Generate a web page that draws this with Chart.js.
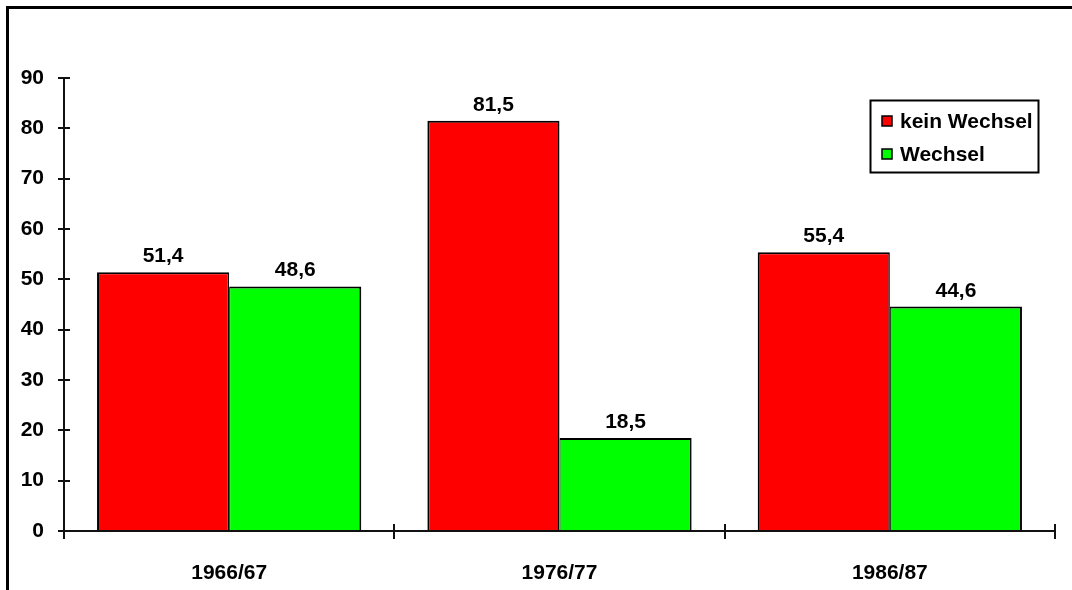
<!DOCTYPE html>
<html>
<head>
<meta charset="utf-8">
<script src="https://cdn.jsdelivr.net/npm/chart.js@4/dist/chart.umd.min.js"></script>
<style>
  html, body { margin: 0; padding: 0; background: #fff; }
  #wrap { width: 1072px; height: 590px; position: relative; }
</style>
</head>
<body>
<div id="wrap"><canvas id="c" width="1072" height="590"></canvas></div>
<script>
// Survey years and the share (in %) of each group
const categories = ['1966/67', '1976/77', '1986/87'];
const keinWechsel = [51.4, 81.5, 55.4];
const wechsel = [48.6, 18.5, 44.6];
const seriesNames = ['kein Wechsel', 'Wechsel'];
const yTicks = [0, 10, 20, 30, 40, 50, 60, 70, 80, 90];

const FAMILY = '"Liberation Sans", Arial, sans-serif';
const FONT = 'bold 21px ' + FAMILY;

// Frame, axes with crossing tick marks, value labels and legend box
const decorations = {
  id: 'decorations',
  afterDraw(chart) {
    const ctx = chart.ctx;
    const area = chart.chartArea;
    const y = chart.scales.y;
    ctx.save();

    // outer frame (top and left edges)
    ctx.strokeStyle = '#000';
    ctx.lineWidth = 3;
    ctx.beginPath();
    ctx.moveTo(7.5, 590);
    ctx.lineTo(7.5, 7.5);
    ctx.lineTo(1072, 7.5);
    ctx.stroke();

    // axes
    ctx.lineWidth = 2;
    ctx.strokeStyle = '#111';
    const ax = Math.round(area.left);
    const ay = Math.round(y.getPixelForValue(0));
    ctx.beginPath();
    ctx.moveTo(ax, y.getPixelForValue(90));
    ctx.lineTo(ax, ay);
    ctx.moveTo(ax - 6, ay);
    ctx.lineTo(area.right, ay);
    ctx.stroke();

    // y tick marks across the axis
    ctx.beginPath();
    yTicks.forEach(v => {
      const py = Math.round(y.getPixelForValue(v));
      ctx.moveTo(ax - 6, py);
      ctx.lineTo(ax + 6, py);
    });
    // x tick marks at category boundaries
    const n = categories.length;
    for (let i = 0; i <= n; i++) {
      const px = Math.round(area.left + i * (area.right - area.left) / n);
      ctx.moveTo(px, ay - 7);
      ctx.lineTo(px, ay + 8);
    }
    ctx.stroke();

    // value labels above bars
    ctx.font = FONT;
    ctx.fillStyle = '#000';
    ctx.textAlign = 'center';
    ctx.textBaseline = 'alphabetic';
    chart.data.datasets.forEach((ds, di) => {
      const meta = chart.getDatasetMeta(di);
      meta.data.forEach((bar, i) => {
        const label = ds.data[i].toFixed(1).replace('.', ',');
        ctx.fillText(label, bar.x, bar.y - 10);
      });
    });

    // legend box
    const lx = 870.5, ly = 100.5, lw = 168, lh = 72;
    ctx.lineWidth = 2;
    ctx.strokeStyle = '#000';
    ctx.strokeRect(lx, ly, lw, lh);
    ctx.textAlign = 'left';
    ctx.textBaseline = 'middle';
    chart.data.datasets.forEach((ds, di) => {
      const cy = 121 + di * 33;
      ctx.fillStyle = ds.backgroundColor;
      ctx.fillRect(882, cy - 5, 10, 10);
      ctx.lineWidth = 1.5;
      ctx.strokeRect(882, cy - 5, 10, 10);
      ctx.fillStyle = '#000';
      ctx.fillText(ds.label, 900, cy + 1);
    });

    ctx.restore();
  }
};

new Chart(document.getElementById('c'), {
  type: 'bar',
  data: {
    labels: categories,
    datasets: [
      { label: seriesNames[0], data: keinWechsel, backgroundColor: '#ff0000', borderColor: '#000',
        borderWidth: { top: 2, left: 2, right: 1.5, bottom: 0 }, borderSkipped: false },
      { label: seriesNames[1], data: wechsel, backgroundColor: '#00ff00', borderColor: '#000',
        borderWidth: { top: 2, left: 1, right: 2, bottom: 0 }, borderSkipped: false }
    ]
  },
  options: {
    responsive: false,
    animation: false,
    events: [],
    layout: { padding: { top: 78, right: 17, left: 0, bottom: 0 } },
    datasets: { bar: { categoryPercentage: 0.8, barPercentage: 1.0 } },
    plugins: { legend: { display: false }, tooltip: { enabled: false } },
    scales: {
      x: {
        grid: { display: false, drawTicks: false },
        border: { display: false },
        ticks: { color: '#000', font: { family: FAMILY, size: 21, weight: 'bold' }, padding: 30, maxRotation: 0 },
        afterFit(s) { s.height = 59; }
      },
      y: {
        min: 0, max: 90,
        afterBuildTicks(s) { s.ticks = yTicks.map(v => ({ value: v })); },
        grid: { display: false, drawTicks: false },
        border: { display: false },
        ticks: { color: '#000', font: { family: FAMILY, size: 21, weight: 'bold' }, padding: 20 },
        afterFit(s) { s.width = 64; }
      }
    }
  },
  plugins: [decorations]
});
</script>
</body>
</html>
